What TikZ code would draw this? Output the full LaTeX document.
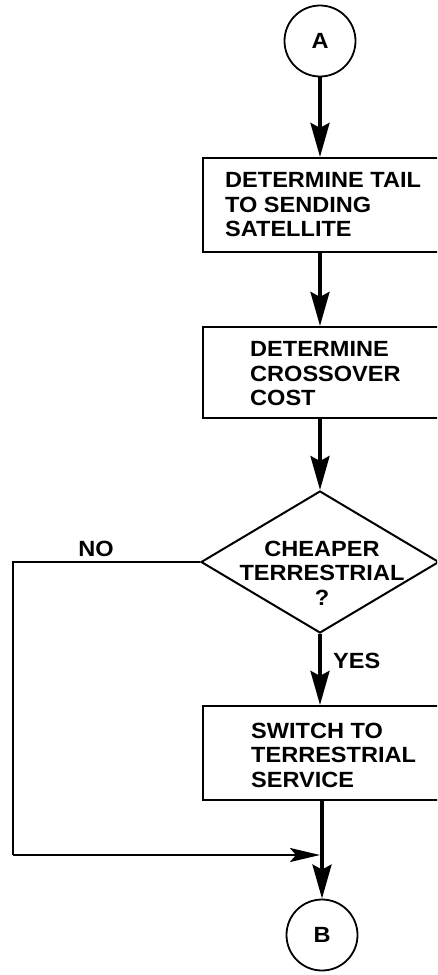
\documentclass[tikz,border=0pt]{standalone}
\usepackage{fontspec}
\setmainfont{Liberation Sans}[FakeStretch=1.07]
\usetikzlibrary{arrows.meta,shapes.geometric}

\begin{document}
\begin{tikzpicture}[x=1pt,y=-1pt,
  box/.style={draw, line width=2.2pt, minimum width=242pt, inner sep=0pt},
  conn/.style={draw, circle, line width=1.8pt, minimum size=71pt, inner sep=0pt,
    font=\fontsize{22}{24}\selectfont\bfseries},
  decision/.style={draw, diamond, line width=2pt, minimum width=238pt,
    minimum height=142pt, inner sep=0pt},
  lbl/.style={font=\fontsize{22}{24.5}\selectfont\bfseries, inner sep=0pt},
  flow/.style={line width=3.6pt, -{Stealth[length=34pt,width=19pt,inset=5pt]}},
  loop/.style={line width=2.8pt, -{Stealth[length=30pt,width=14pt,inset=6pt]}},
  ]
\useasboundingbox (0,0) rectangle (437,975);
\clip (0,0) rectangle (437,975);

% connectors and process blocks
\node[conn] (A) at (320,41) {A};
\node[box, minimum height=94pt] (b1) at (324,205) {};
\node[box, minimum height=91pt] (b2) at (324,372.5) {};
\node[decision] (d) at (320,562) {};
\node[box, minimum height=94pt] (b3) at (324,753) {};
\node[conn] (B) at (322,935) {B};

% texts
\node[lbl, anchor=west, align=left] (t1) at (225,205) {DETERMINE TAIL\\TO SENDING\\SATELLITE};
\node[lbl, anchor=west, align=left] (t2) at (250,374) {DETERMINE\\CROSSOVER\\COST};
\node[lbl, anchor=west, align=left] (t3) at (251,755) {SWITCH TO\\TERRESTRIAL\\SERVICE};
\node[lbl, align=center] (td) at (322,573) {CHEAPER\\TERRESTRIAL\\?};
\node[lbl] (no) at (96,549) {NO};
\node[lbl, anchor=west] (yes) at (333,661) {YES};

% main flow
\draw[flow] (A.south) -- (A.south |- b1.north);
\draw[flow] (b1.south -| A) -- (b2.north -| A);
\draw[flow] (b2.south -| d) -- (d.north);
\draw[flow] (d.south) -- (d.south |- b3.north);
\draw[flow] (b3.south -| B) -- (B.north);

% "no" branch bypassing the switch
\coordinate (c1) at (13,562);
\coordinate (c2) at (13,855);
\coordinate (m) at (320,855);
\draw[line width=2.8pt] (d.west) -- (c1) -- (c2);
\draw[loop] (c2) -- (m);
\end{tikzpicture}
\end{document}
